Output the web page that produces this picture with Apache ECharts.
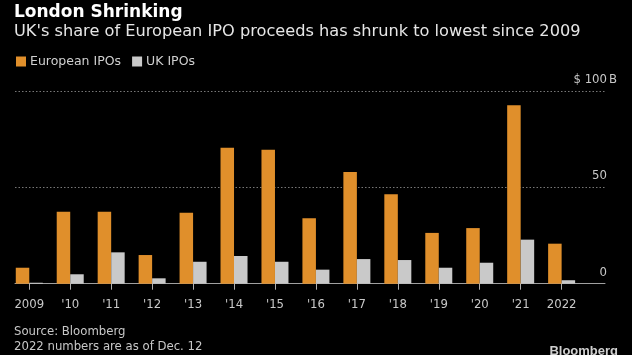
<!DOCTYPE html>
<html>
<head>
<meta charset="utf-8">
<script src="https://cdn.jsdelivr.net/npm/echarts@6/dist/echarts.min.js"></script>
<style>
html,body{margin:0;padding:0;background:#000;}
#c{width:632px;height:355px;}
</style>
</head>
<body>
<div id="c"></div>
<script>
var categories = ['2009', "'10", "'11", "'12", "'13", "'14", "'15", "'16", "'17", "'18", "'19", "'20", "'21", '2022'];
var europeanIPOs = [8.3, 37.4, 37.4, 14.9, 36.9, 70.7, 69.6, 34.0, 58.1, 46.5, 26.4, 28.9, 92.7, 20.8];
var ukIPOs = [0.5, 4.9, 16.3, 2.8, 11.4, 14.4, 11.4, 7.3, 12.8, 12.3, 8.3, 10.9, 22.9, 1.8];
var yTicks = {0: '0', 50: '50', 100: '$ 100'};

var COND = '"DejaVu Sans Condensed", "DejaVu Sans", sans-serif';
var WIDE = '"DejaVu Sans", sans-serif';
var chart = echarts.init(document.getElementById('c'));
chart.setOption({
  backgroundColor: '#000',
  animation: false,
  textStyle: {fontFamily: COND},
  title: [
    {text: 'London Shrinking', left: 9, top: -1, textStyle: {color: '#ffffff', fontSize: 17, fontWeight: 'bold', fontFamily: WIDE}},
    {text: "UK's share of European IPO proceeds has shrunk to lowest since 2009", left: 9, top: 18.5, textStyle: {color: '#e6e6e6', fontSize: 16.2, fontWeight: 'normal', fontFamily: WIDE}},
    {text: 'Source: Bloomberg\n2022 numbers are as of Dec. 12', left: 9, top: 319, textStyle: {color: '#c8c8c8', fontSize: 13, fontWeight: 'normal', lineHeight: 15, fontFamily: COND}},
    {text: 'Bloomberg', right: 9, top: 340, textStyle: {color: '#d0d0d0', fontSize: 13, fontWeight: 'bold', fontFamily: '"Liberation Sans", sans-serif'}}
  ],
  legend: {
    left: 11, top: 50, itemWidth: 10, itemHeight: 10, itemGap: 11, icon: 'rect',
    textStyle: {color: '#d0d0d0', fontSize: 12.5, fontFamily: WIDE, padding: [0, 0, 0, -1]},
    data: ['European IPOs', 'UK IPOs']
  },
  grid: [
    {left: 8.8, right: 49.9, top: 91.3, bottom: 71.3},
    {left: 15, right: 27, top: 91.3, bottom: 71.3}
  ],
  xAxis: [
    {type: 'category', gridIndex: 0, data: categories,
     axisLine: {show: false},
     axisTick: {show: true, alignWithLabel: true, length: 6, lineStyle: {color: '#b0b0b0'}},
     axisLabel: {color: '#c8c8c8', fontSize: 13, margin: 14, fontFamily: COND}},
    {type: 'value', gridIndex: 1, min: 0, max: 1,
     axisLine: {show: true, onZero: false, lineStyle: {color: '#a0a0a0', width: 1}},
     axisTick: {show: false}, axisLabel: {show: false}, splitLine: {show: false}}
  ],
  yAxis: [
    {type: 'value', gridIndex: 0, min: 0, max: 100, interval: 50, show: false, splitLine: {show: false}},
    {type: 'value', gridIndex: 1, min: 0, max: 100, interval: 50, position: 'right',
     axisLine: {show: false}, axisTick: {show: false},
     axisLabel: {inside: true, verticalAlign: 'bottom', margin: -14, padding: [0, 0, 5, 0], color: '#c8c8c8', fontSize: 13, fontFamily: COND,
       formatter: function (v) { return yTicks[v] + (v === 100 ? '{b|B}' : '{h|B}'); },
       rich: {
         b: {color: '#c8c8c8', fontSize: 13, fontFamily: COND, width: 12, align: 'left'},
         h: {color: 'rgba(0,0,0,0)', fontSize: 13, fontFamily: COND, width: 12, align: 'left'}
       }},
     splitLine: {show: true, lineStyle: {color: '#777777', type: [1.5, 2], width: 1}}}
  ],
  series: [
    {name: 'European IPOs', type: 'bar', xAxisIndex: 0, yAxisIndex: 0, data: europeanIPOs, barWidth: 13.5, barGap: '0%', itemStyle: {color: '#e08f2b'}},
    {name: 'UK IPOs', type: 'bar', xAxisIndex: 0, yAxisIndex: 0, data: ukIPOs, barWidth: 13.5, barGap: '0%', itemStyle: {color: '#c9c9c9'}}
  ]
});
</script>
</body>
</html>
